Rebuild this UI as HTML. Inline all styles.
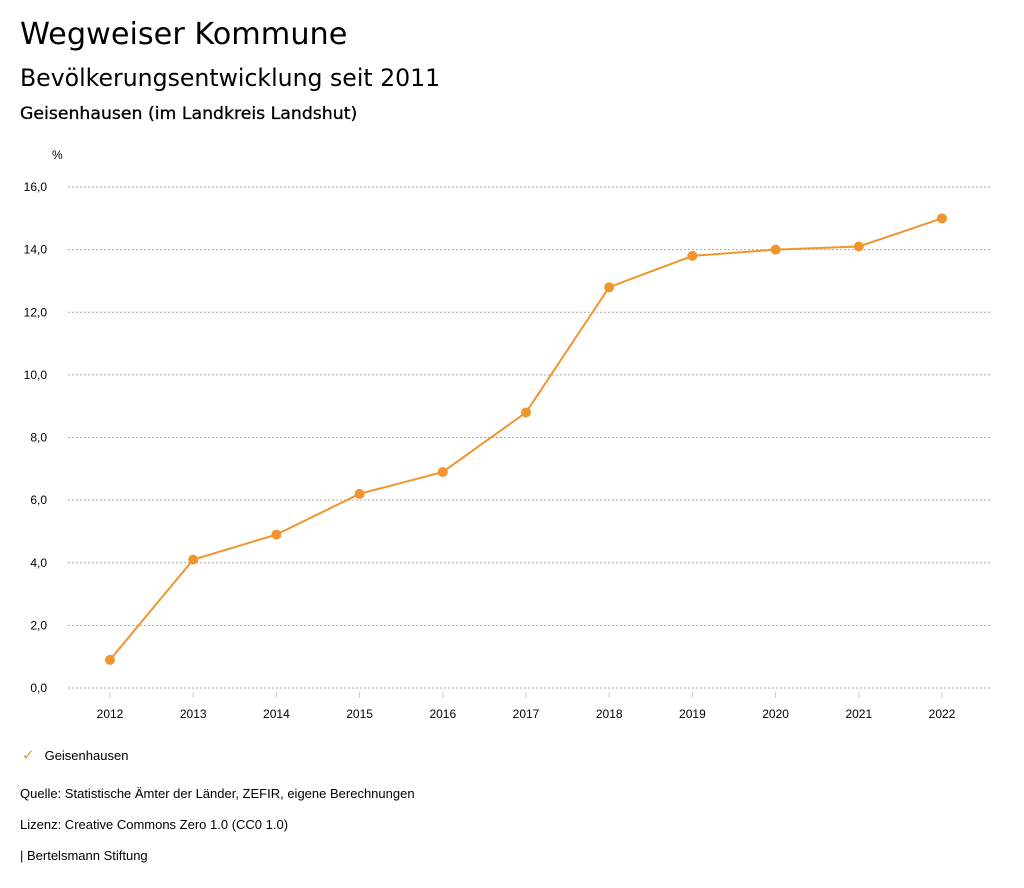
<!DOCTYPE html>
<html><head><meta charset="utf-8"><style>
body{margin:0;background:#fff;width:1024px;height:888px;overflow:hidden;font-family:"Liberation Sans","DejaVu Sans",sans-serif;color:#000}
.t{position:absolute;white-space:nowrap}
.h{font-family:"DejaVu Sans",sans-serif}
</style></head><body>
<div class="t h" style="left:20px;top:17px;font-size:30.3px">Wegweiser Kommune</div>
<div class="t h" style="left:20px;top:64px;font-size:23.6px">Bevölkerungsentwicklung seit 2011</div>
<div class="t h" style="left:20px;top:104px;font-size:17.3px;-webkit-text-stroke:0.3px #000">Geisenhausen (im Landkreis Landshut)</div>
<svg id="chart" width="1024" height="888" style="position:absolute;left:0;top:0"></svg>
<div class="t" style="left:22px;top:746px;font-size:13px"><span style="color:#f0952f;font-size:15px">✓</span><span style="margin-left:10px">Geisenhausen</span></div>
<div class="t" style="left:20px;top:786px;font-size:13px">Quelle: Statistische Ämter der Länder, ZEFIR, eigene Berechnungen</div>
<div class="t" style="left:20px;top:817px;font-size:13px">Lizenz: Creative Commons Zero 1.0 (CC0 1.0)</div>
<div class="t" style="left:20px;top:848px;font-size:13px">| Bertelsmann Stiftung</div>
<script>
const years=["2012","2013","2014","2015","2016","2017","2018","2019","2020","2021","2022"];
const values=[0.9,4.1,4.9,6.2,6.9,8.8,12.8,13.8,14.0,14.1,15.0];
const yTicks=[0,2,4,6,8,10,12,14,16];
const yTickLabels=["0,0","2,0","4,0","6,0","8,0","10,0","12,0","14,0","16,0"];
const svg=document.getElementById('chart');
const NS='http://www.w3.org/2000/svg';
const y=v=>688-v*(501/16);
const x=i=>110+i*83.2;
function mk(t,a){const e=document.createElementNS(NS,t);for(const k in a)e.setAttribute(k,a[k]);svg.appendChild(e);return e;}
const pct=mk('text',{x:52,y:159,'font-size':12});pct.textContent='%';


yTicks.forEach((v,i)=>{
 const l=mk('line',{x1:68,x2:990,y1:y(v),y2:y(v),stroke:'#aaa','stroke-dasharray':'2,2','stroke-width':1});
 
 
 const t=mk('text',{x:47,y:y(v)+4,'font-size':12,'text-anchor':'end'});t.textContent=yTickLabels[i];
 
 
});
years.forEach((yr,i)=>{
 const l=mk('line',{x1:x(i),x2:x(i),y1:692,y2:698,stroke:'#ccc'});
 
 
 const t=mk('text',{x:x(i),y:718,'font-size':12,'text-anchor':'middle'});t.textContent=yr;
 
 
});
const p=mk('polyline',{points:values.map((v,i)=>x(i)+','+y(v)).join(' '),fill:'none',stroke:'#f0952f','stroke-width':2});


values.forEach((v,i)=>{
 const c=mk('circle',{cx:x(i),cy:y(v),r:5,fill:'#f0952f'});
 
 
});
</script>
</body></html>
